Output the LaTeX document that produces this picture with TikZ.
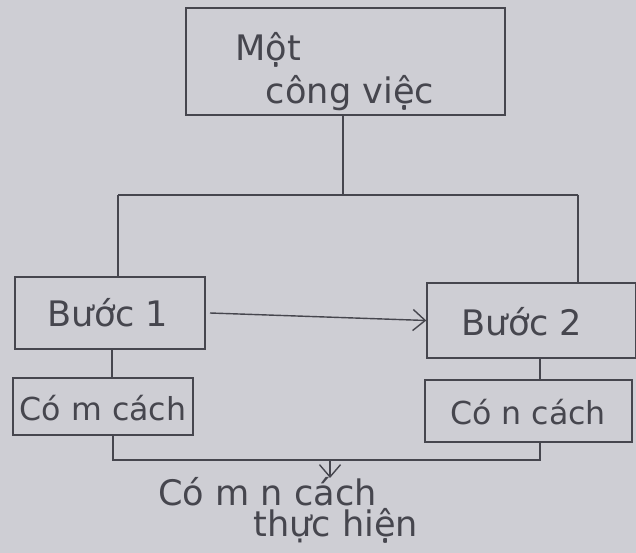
\documentclass[tikz,border=0pt]{standalone}
\usepackage{fontspec}
\setmainfont{DejaVu Sans}
\usetikzlibrary{arrows.meta}
\definecolor{paper}{RGB}{206,206,212}
\definecolor{ink}{RGB}{70,70,78}
\begin{document}
\begin{tikzpicture}[x=0.02cm,y=-0.02cm,
  box/.style={draw=ink,line width=0.8pt,inner sep=0pt},
  conn/.style={draw=ink,line width=0.8pt},
  lbl/.style={text=ink,font=\fontsize{20}{24}\selectfont},
  slbl/.style={text=ink,font=\fontsize{18}{22}\selectfont}]
\fill[paper] (0,0) rectangle (636,553);
\useasboundingbox (0,0) rectangle (636,553);
% boxes
\node[box,minimum width=319*0.02cm,minimum height=107*0.02cm] (top) at (345.5,61.5) {};
\node[lbl] (t1) at (268,50) {Một};
\node[lbl] (t2) at (350,93) {công việc};
\node[box,minimum width=190*0.02cm,minimum height=72*0.02cm] (b1) at (110,313) {};
\node[lbl] (b1t) at (108,313) {Bước 1};
\node[box,minimum width=209*0.02cm,minimum height=75*0.02cm] (b2) at (531.5,320.5) {};
\node[lbl] (b2t) at (522,322) {Bước 2};
\node[box,minimum width=180*0.02cm,minimum height=57*0.02cm] (m) at (103,406.5) {};
\node[slbl] (mt) at (103,408) {Có m cách};
\node[box,minimum width=207*0.02cm,minimum height=62*0.02cm] (n) at (528.5,411) {};
\node[slbl] (nt) at (528,412) {Có n cách};
\node[text=ink,font=\fontsize{20}{18}\selectfont,inner sep=0pt,align=left,anchor=west] (res) at (158,510)
  {Có m n cách\\\hspace*{2.7em}thực hiện};
% junctions
\coordinate (j0) at (343,195);
\coordinate (jl) at (118,195);
\coordinate (jr) at (578,195);
\coordinate (xl) at (112,0);
\coordinate (xr) at (540,0);
\coordinate (bl) at (113,460);
\coordinate (br) at (540,460);
\coordinate (bm) at (330,460);
\coordinate (out) at (330,478);
\coordinate (a0) at (210,313);
% connectors
\draw[conn] (top.south -| j0) -- (j0);
\draw[conn] (jl) -- (jr);
\draw[conn] (jl) -- (jl |- b1.north);
\draw[conn] (jr) -- (jr |- b2.north);
\draw[conn,-{Straight Barb[length=7pt,width=12pt]}] (a0) -- (b2.west);
\draw[conn] (b1.south -| xl) -- (m.north -| xl);
\draw[conn] (b2.south -| xr) -- (n.north -| xr);
\draw[conn] (m.south -| bl) -- (bl) -- (br) -- (n.south -| br);
\draw[conn,-{Straight Barb[length=7pt,width=12pt]}] (bm) -- (out);
\end{tikzpicture}
\end{document}
